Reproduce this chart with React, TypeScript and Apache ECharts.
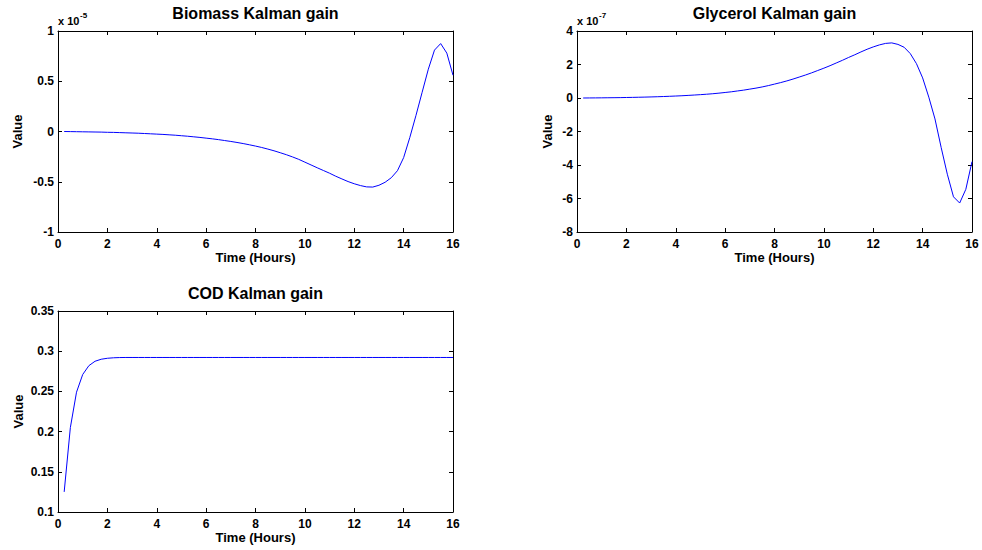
import React, { useEffect, useRef } from "react";
import * as echarts from "echarts";

// Time (hours)
const times = [
  0.25, 0.5, 0.75, 1, 1.25, 1.5, 1.75, 2, 2.25, 2.5, 2.75, 3, 3.25, 3.5, 3.75, 4,
  4.25, 4.5, 4.75, 5, 5.25, 5.5, 5.75, 6, 6.25, 6.5, 6.75, 7, 7.25, 7.5, 7.75, 8,
  8.25, 8.5, 8.75, 9, 9.25, 9.5, 9.75, 10, 10.25, 10.5, 10.75, 11, 11.25, 11.5, 11.75, 12,
  12.25, 12.5, 12.75, 13, 13.25, 13.5, 13.75, 14, 14.25, 14.5, 14.75, 15, 15.25, 15.5, 15.75, 16,
];

// Biomass Kalman gain (in units of 1e-5)
const biomassGain = [
  0.0, -0.001, -0.002, -0.003, -0.004, -0.005, -0.006, -0.008, -0.009, -0.011, -0.013, -0.015, -0.017, -0.02, -0.023, -0.026,
  -0.029, -0.033, -0.037, -0.042, -0.047, -0.053, -0.059, -0.066, -0.073, -0.081, -0.09, -0.099, -0.109, -0.12, -0.132, -0.145,
  -0.159, -0.175, -0.192, -0.211, -0.231, -0.253, -0.277, -0.305, -0.333, -0.361, -0.388, -0.415, -0.445, -0.472, -0.498, -0.52,
  -0.538, -0.551, -0.553, -0.535, -0.505, -0.46, -0.39, -0.26, -0.06, 0.16, 0.39, 0.62, 0.81, 0.875, 0.78, 0.56,
];

// Glycerol Kalman gain (in units of 1e-7)
const glycerolGain = [
  0.0, 0.003, 0.006, 0.01, 0.014, 0.018, 0.023, 0.03, 0.037, 0.045, 0.054, 0.064, 0.075, 0.088, 0.102, 0.118,
  0.135, 0.155, 0.177, 0.2, 0.225, 0.255, 0.29, 0.33, 0.37, 0.42, 0.47, 0.53, 0.59, 0.66, 0.74, 0.83,
  0.92, 1.02, 1.13, 1.25, 1.37, 1.5, 1.64, 1.78, 1.93, 2.09, 2.25, 2.42, 2.58, 2.75, 2.91, 3.05,
  3.17, 3.26, 3.29, 3.2, 3.03, 2.65, 2.05, 1.2, 0.05, -1.25, -2.95, -4.55, -5.9, -6.27, -5.45, -3.8,
];

// COD Kalman gain
const codGain = [
  0.125, 0.205, 0.249, 0.271, 0.282, 0.2875, 0.29, 0.2912, 0.2918, 0.2921, 0.2922, 0.2922, 0.2922, 0.2922, 0.2922, 0.2922,
  0.2922, 0.2922, 0.2922, 0.2922, 0.2922, 0.2922, 0.2922, 0.2922, 0.2922, 0.2922, 0.2922, 0.2922, 0.2922, 0.2922, 0.2922, 0.2922,
  0.2922, 0.2922, 0.2922, 0.2922, 0.2922, 0.2922, 0.2922, 0.2922, 0.2922, 0.2922, 0.2922, 0.2922, 0.2922, 0.2922, 0.2922, 0.2922,
  0.2922, 0.2922, 0.2922, 0.2922, 0.2922, 0.2922, 0.2922, 0.2922, 0.2922, 0.2922, 0.2922, 0.2922, 0.2922, 0.2922, 0.2922, 0.2922,
];

const titles = ["Biomass Kalman gain", "Glycerol Kalman gain", "COD Kalman gain"];
const xAxisName = "Time (Hours)";
const yAxisName = "Value";
const exponents = ["-5", "-7"];

export default function App() {
  const ref = useRef<HTMLDivElement>(null);

  useEffect(() => {
    if (!ref.current) return;
    const chart = echarts.init(ref.current, null, { renderer: "svg" });
    const font = "'Liberation Sans', Arial, sans-serif";

    const grids = [
      { left: 58, top: 31, width: 395, height: 201 },
      { left: 577, top: 31, width: 395, height: 201 },
      { left: 58, top: 311, width: 395, height: 201 },
    ];
    const yRanges = [
      { min: -1, max: 1, interval: 0.5, gap: 34 },
      { min: -8, max: 4, interval: 2, gap: 23 },
      { min: 0.1, max: 0.35, interval: 0.05, gap: 33 },
    ];
    const seriesData = [biomassGain, glycerolGain, codGain];

    const lineStyle = { color: "#000", width: 1 };
    const tick = { show: true, inside: true, length: 4, lineStyle: { color: "#000", width: 1 } };

    const xAxes: any[] = [];
    const yAxes: any[] = [];
    const series: any[] = [];

    grids.forEach((g, i) => {
      const base = { type: "value", gridIndex: i, min: 0, max: 16, interval: 2, splitLine: { show: false } };
      xAxes.push({
        ...base,
        position: "bottom",
        axisLine: { show: true, onZero: false, lineStyle },
        axisTick: tick,
        axisLabel: { show: true, margin: 6, color: "#000", fontSize: 12, fontWeight: "bold", fontFamily: font },
        name: xAxisName,
        nameLocation: "middle",
        nameGap: 18,
        nameTextStyle: { color: "#000", fontSize: 13, fontWeight: "bold", fontFamily: font },
      });
      xAxes.push({
        ...base,
        position: "top",
        axisLine: { show: true, onZero: false, lineStyle },
        axisTick: tick,
        axisLabel: { show: false },
      });
      const yr = yRanges[i];
      const ybase = { type: "value", gridIndex: i, min: yr.min, max: yr.max, interval: yr.interval, splitLine: { show: false } };
      yAxes.push({
        ...ybase,
        position: "left",
        axisLine: { show: true, onZero: false, lineStyle },
        axisTick: tick,
        axisLabel: { show: true, margin: 4, color: "#000", fontSize: 12, fontWeight: "bold", fontFamily: font },
        name: yAxisName,
        nameLocation: "middle",
        nameGap: yr.gap,
        nameTextStyle: { color: "#000", fontSize: 13, fontWeight: "bold", fontFamily: font },
      });
      yAxes.push({
        ...ybase,
        position: "right",
        axisLine: { show: true, onZero: false, lineStyle },
        axisTick: tick,
        axisLabel: { show: false },
      });
      series.push({
        type: "line",
        xAxisIndex: 2 * i,
        yAxisIndex: 2 * i,
        data: times.map((t, k) => [t, seriesData[i][k]]),
        showSymbol: false,
        symbol: "none",
        lineStyle: { color: "#0000ff", width: 1 },
        silent: true,
      });
    });

    const titleStyle = { color: "#000", fontSize: 16, fontWeight: "bold", fontFamily: font };
    const title = [
      { text: titles[0], left: 255.5, top: 5, textAlign: "center", textStyle: titleStyle, padding: 0 },
      { text: titles[1], left: 774.5, top: 5, textAlign: "center", textStyle: titleStyle, padding: 0 },
      { text: titles[2], left: 255.5, top: 285, textAlign: "center", textStyle: titleStyle, padding: 0 },
    ];

    const expo = (x: number, e: string) => [
      {
        type: "text",
        x,
        y: 21,
        style: { text: "x 10", fill: "#000", font: `bold 11px ${font}`, align: "left", verticalAlign: "middle" },
      },
      {
        type: "text",
        x: x + 22,
        y: 15,
        style: { text: e, fill: "#000", font: `bold 8px ${font}`, align: "left", verticalAlign: "middle" },
      },
    ];

    chart.setOption({
      animation: false,
      backgroundColor: "#fff",
      title,
      grid: grids.map((g) => ({ ...g, show: false, containLabel: false })),
      xAxis: xAxes,
      yAxis: yAxes,
      series,
      graphic: [...expo(58, exponents[0]), ...expo(577, exponents[1])],
    });

    return () => chart.dispose();
  }, []);

  return (
    <div
      ref={ref}
      style={{ position: "fixed", left: 0, top: 0, width: 982, height: 550, background: "#fff" }}
    />
  );
}
